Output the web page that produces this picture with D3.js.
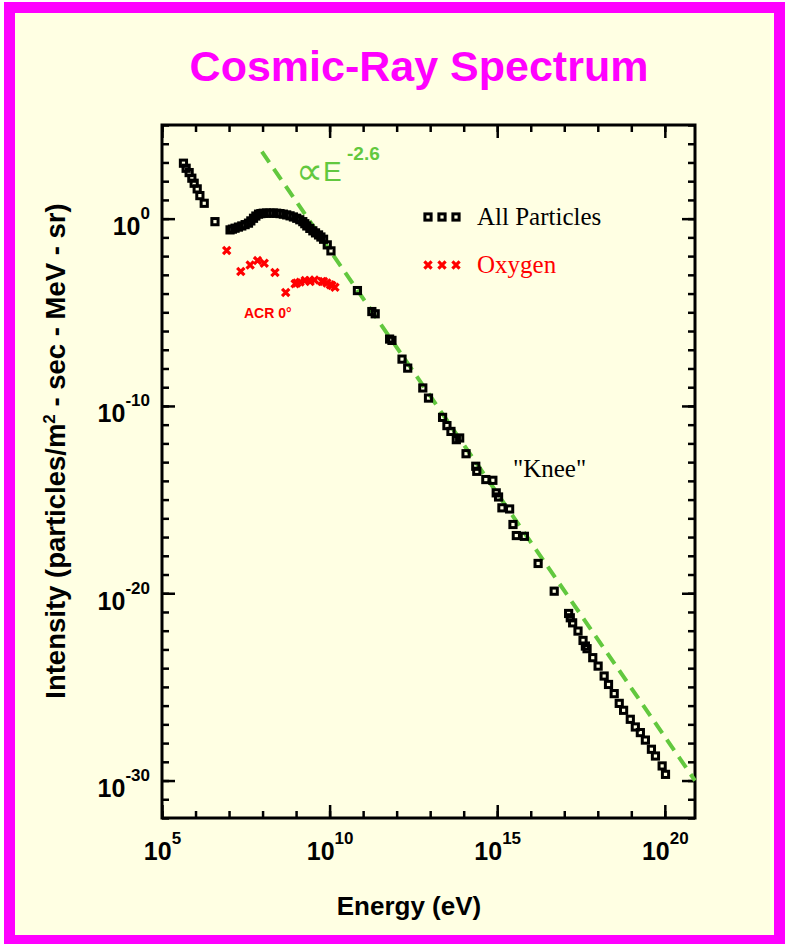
<!DOCTYPE html>
<html>
<head>
<meta charset="utf-8">
<script src="https://cdn.jsdelivr.net/npm/d3@7"></script>
<style>
body { margin: 0; background: #fff; }
svg text { font-family: "Liberation Sans", Arial, sans-serif; }
</style>
</head>
<body>
<svg width="788" height="944"></svg>
<script>
// values, as log10(E / eV) and log10(intensity)
const allLogE = [5.64, 5.72, 5.81, 5.89, 5.96, 6.05, 6.13, 6.26, 6.58,
    7.03, 7.10, 7.18, 7.28, 7.38, 7.48, 7.58, 7.65, 7.73, 7.80, 7.88, 7.95, 8.02, 8.12, 8.22,
    8.32, 8.42, 8.52, 8.62, 8.72, 8.82, 8.92, 9.02, 9.11, 9.20, 9.26, 9.32, 9.41, 9.50, 9.58,
    9.67, 9.74, 9.82, 9.93, 10.04,
    10.83, 11.26, 11.36, 11.79, 11.86, 12.16, 12.33, 12.78, 12.95, 13.37, 13.50, 13.62, 13.78,
    13.88, 14.07, 14.36, 14.39, 14.66, 14.87, 14.97, 15.04, 15.14, 15.37, 15.47, 15.57, 15.81,
    16.22, 16.70, 17.13, 17.18, 17.25, 17.41, 17.56, 17.63, 17.68, 17.85, 18.01, 18.19, 18.32,
    18.49, 18.64, 18.77, 18.97, 19.12, 19.27, 19.42, 19.60, 19.72, 19.92, 20.02];
const allLogI = [2.96, 2.69, 2.46, 2.16, 1.89, 1.59, 1.23, 0.82, -0.16,
    -0.60, -0.56, -0.51, -0.45, -0.39, -0.32, -0.24, -0.12, 0.02, 0.14, 0.24, 0.27, 0.29, 0.30, 0.29,
    0.30, 0.29, 0.27, 0.24, 0.20, 0.15, 0.09, 0.02, -0.06, -0.16, -0.27, -0.39, -0.52, -0.65, -0.76,
    -0.87, -0.98, -1.10, -1.40, -1.72,
    -3.84, -4.96, -5.08, -6.43, -6.50, -7.50, -7.98, -9.04, -9.58, -10.61, -11.05, -11.36, -11.80,
    -11.71, -12.55, -13.22, -13.49, -13.93, -13.97, -14.64, -14.86, -15.44, -15.50, -16.33, -16.92, -16.96,
    -18.41, -19.89, -21.08, -21.31, -21.58, -22.02, -22.52, -22.82, -22.96, -23.44, -23.89, -24.42, -24.87,
    -25.36, -25.88, -26.25, -26.73, -27.14, -27.44, -27.84, -28.33, -28.69, -29.22, -29.67];

const oxyLogE = [6.93, 7.35, 7.63, 7.85, 8.05, 8.37, 8.69, 8.97, 9.02, 9.12, 9.27, 9.40,
    9.42, 9.55, 9.77, 9.82, 9.92, 10.02, 10.07, 10.16];
const oxyLogI = [-1.70, -2.82, -2.47, -2.24, -2.38, -2.88, -3.94, -3.48, -3.44, -3.39, -3.30, -3.30,
    -3.36, -3.27, -3.36, -3.36, -3.44, -3.53, -3.57, -3.66];

// the E^-2.6 guide line, end points
const fitLogE = [7.98, 20.9];
const fitLogI = [3.58, -30.0];

const xMajor = [5, 10, 15, 20];
const yMajor = [0, -10, -20, -30];

const green = "#62c83e";

const svg = d3.select("svg");

// magenta border + pale yellow page
svg.append("rect").attr("x", 4).attr("y", 2).attr("width", 781).attr("height", 942).attr("fill", "#ff00ff");
svg.append("rect").attr("x", 15).attr("y", 13).attr("width", 759).attr("height", 922).attr("fill", "#ffffe3");

svg.append("text")
    .attr("x", 419).attr("y", 81)
    .attr("text-anchor", "middle")
    .attr("font-size", 43).attr("font-weight", "bold")
    .attr("fill", "#ff00ff")
    .text("Cosmic-Ray Spectrum");

const x = d3.scaleLog().domain([1e5, Math.pow(10, 20.9)]).range([162, 695]),
    y = d3.scaleLog().domain([1e-32, 1e5]).range([818, 125]);

const pow10 = e => Math.pow(10, e);
const xMinorVals = d3.range(5, 21).map(pow10),
    yMinorVals = d3.range(-32, 6).map(pow10);

function axis(fn, vals, size, transform) {
    const g = svg.append("g")
        .attr("transform", transform)
        .call(fn.tickValues(vals).tickSizeInner(size).tickSizeOuter(0).tickFormat(""));
    g.select(".domain").remove();
    g.selectAll(".tick line").attr("stroke", "#000").attr("stroke-width", 2.5);
    return g;
}

// minor ticks every decade, major ones longer, all pointing inward
axis(d3.axisBottom(x), xMinorVals, -7, "translate(0,818)");
axis(d3.axisTop(x), xMinorVals, -7, "translate(0,125)");
axis(d3.axisLeft(y), yMinorVals, -7, "translate(162,0)");
axis(d3.axisRight(y), yMinorVals, -7, "translate(695,0)");
const gxMajor = axis(d3.axisBottom(x), xMajor.map(pow10), -13, "translate(0,818)");
axis(d3.axisTop(x), xMajor.map(pow10), -13, "translate(0,125)");
const gyMajor = axis(d3.axisLeft(y), yMajor.map(pow10), -13, "translate(162,0)");
axis(d3.axisRight(y), yMajor.map(pow10), -13, "translate(695,0)");

gxMajor.selectAll(".tick text").each(function(d) {
    const t = d3.select(this)
        .attr("y", 42).attr("dy", 0)
        .attr("text-anchor", "middle")
        .attr("fill", "#000").attr("font-size", 25).attr("font-weight", "bold");
    t.append("tspan").text("10");
    t.append("tspan").attr("dy", -16).attr("font-size", 17).text(Math.round(Math.log10(d)));
});

gyMajor.selectAll(".tick text").each(function(d) {
    const t = d3.select(this)
        .attr("x", -12).attr("y", 16).attr("dy", 0)
        .attr("text-anchor", "end")
        .attr("fill", "#000").attr("font-size", 25).attr("font-weight", "bold");
    t.append("tspan").text("10");
    t.append("tspan").attr("dy", -16).attr("font-size", 17).text(Math.round(Math.log10(d)));
});

// frame
svg.append("rect")
    .attr("x", 162).attr("y", 125)
    .attr("width", 695 - 162).attr("height", 818 - 125)
    .attr("fill", "none").attr("stroke", "#000").attr("stroke-width", 3);

// axis titles
svg.append("text")
    .attr("x", 409).attr("y", 915)
    .attr("text-anchor", "middle")
    .attr("font-size", 26).attr("font-weight", "bold")
    .text("Energy (eV)");

const yt = svg.append("text")
    .attr("transform", "translate(65,451) rotate(-90)")
    .attr("text-anchor", "middle")
    .attr("font-size", 27.5).attr("font-weight", "bold");
yt.append("tspan").text("Intensity (particles/m");
yt.append("tspan").attr("dy", -10).attr("font-size", 17).text("2");
yt.append("tspan").attr("dy", 10).text(" - sec - MeV - sr)");

// E^-2.6 dashed guide
const fit = fitLogE.map((e, i) => ({ E: pow10(e), I: pow10(fitLogI[i]) }));
svg.append("path")
    .datum(fit)
    .attr("fill", "none")
    .attr("stroke", green).attr("stroke-width", 4)
    .attr("stroke-dasharray", "13,8")
    .attr("d", d3.line().x(d => x(d.E)).y(d => y(d.I)));

svg.append("text")
    .attr("x", 296).attr("y", 184)
    .attr("font-size", 38).attr("fill", green)
    .style("font-family", "'DejaVu Sans', sans-serif")
    .text("\u221D");
svg.append("text")
    .attr("x", 323).attr("y", 181)
    .attr("font-size", 28).attr("fill", green)
    .text("E");
svg.append("text")
    .attr("x", 347).attr("y", 160)
    .attr("font-size", 19).attr("font-weight", "bold").attr("fill", green)
    .text("-2.6");

// data
const allData = allLogE.map((e, i) => ({ E: pow10(e), I: pow10(allLogI[i]) }));
const oxyData = oxyLogE.map((e, i) => ({ E: pow10(e), I: pow10(oxyLogI[i]) }));

const sq = 6.2;
svg.append("g").selectAll("rect")
    .data(allData)
    .join("rect")
    .attr("x", d => x(d.E) - sq / 2)
    .attr("y", d => y(d.I) - sq / 2)
    .attr("width", sq).attr("height", sq)
    .attr("fill", "none").attr("stroke", "#000").attr("stroke-width", 3);

const cross = "M-3.6,-3.6L3.6,3.6M-3.6,3.6L3.6,-3.6";
svg.append("g").selectAll("path")
    .data(oxyData)
    .join("path")
    .attr("transform", d => `translate(${x(d.E)},${y(d.I)})`)
    .attr("d", cross)
    .attr("stroke", "#ff0000").attr("stroke-width", 3.2);

svg.append("text")
    .attr("x", 244).attr("y", 318)
    .attr("font-size", 14).attr("font-weight", "bold")
    .attr("fill", "#ff0000")
    .text("ACR 0\u00B0");

// legend
const legendItems = [
    { label: "All Particles", color: "#000", kind: "square", y: 217 },
    { label: "Oxygen", color: "#ff0000", kind: "cross", y: 265 }
];
legendItems.forEach(item => {
    [428, 442, 456].forEach(cx => {
        if (item.kind === "square") {
            svg.append("rect")
                .attr("x", cx - sq / 2).attr("y", item.y - sq / 2)
                .attr("width", sq).attr("height", sq)
                .attr("fill", "none").attr("stroke", item.color).attr("stroke-width", 3);
        } else {
            svg.append("path")
                .attr("transform", `translate(${cx},${item.y})`)
                .attr("d", cross)
                .attr("stroke", item.color).attr("stroke-width", 3.2);
        }
    });
    svg.append("text")
        .attr("x", 477).attr("y", item.y + 8)
        .attr("font-size", 25)
        .style("font-family", "'Liberation Serif', 'Times New Roman', serif")
        .attr("fill", item.color)
        .text(item.label);
});

svg.append("text")
    .attr("x", 513).attr("y", 477)
    .attr("font-size", 25)
    .style("font-family", "'Liberation Serif', 'Times New Roman', serif")
    .text("\"Knee\"");
</script>
</body>
</html>
